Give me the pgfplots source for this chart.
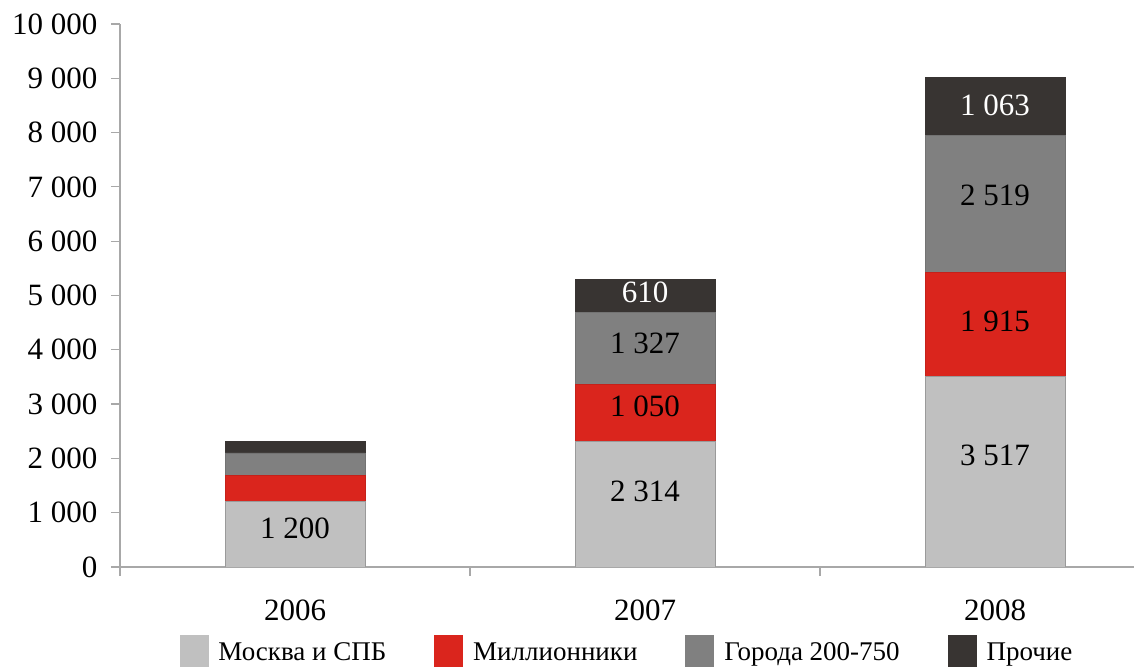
\documentclass[border=0pt]{standalone}
\usepackage{pgfplots}
\pgfplotsset{compat=1.18}
\usepackage{fontspec}
\setmainfont{Liberation Serif}
\definecolor{cLight}{HTML}{C0C0C0}
\definecolor{cRed}{HTML}{DA251D}
\definecolor{cMid}{HTML}{808080}
\definecolor{cDark}{HTML}{383432}
\definecolor{cAxis}{HTML}{A8A8A8}
\begin{document}
\begin{tikzpicture}
\path[use as bounding box] (-120pt,-101pt) rectangle (1014pt,567pt);
\begin{axis}[
  width=1014pt, height=543pt, scale only axis,
  ybar stacked, bar width=140pt,
  xmin=-0.5, xmax=2.397, ymin=0, ymax=10000,
  axis x line=bottom, axis y line=left,
  axis line style={draw=cAxis, line width=1.3pt, -},
  tick align=outside,
  tick style={draw=cAxis, line width=1.2pt},
  xtick={-0.5,0.5,1.5}, xticklabels={},
  extra x ticks={0,1,2}, extra x tick labels={2006,2007,2008},
  extra x tick style={major tick length=0pt},
  major tick length=9pt,
  scaled y ticks=false,
  xticklabel style={font=\fontsize{31}{33}\selectfont, yshift=-29pt},
  ytick={0,1000,...,10000},
  yticklabels={0,1 000,2 000,3 000,4 000,5 000,6 000,7 000,8 000,9 000,10 000},
  yticklabel style={font=\fontsize{31}{33}\selectfont, xshift=-10pt},
  legend columns=4,
  legend style={at={(0.5,-0.121)}, anchor=north, draw=none, fill=none,
    font=\fontsize{27}{29}\selectfont,
    /tikz/every odd column/.append style={column sep=8pt},
    /tikz/every even column/.append style={column sep=46pt}},
]
\addplot[fill=cLight, draw=cLight!80!black, line width=0.8pt,
  legend image code/.code={\fill[cLight] (0pt,-14pt) rectangle (28pt,17pt);}]
  coordinates {(0,1200) (1,2314) (2,3517)};
\addplot[fill=cRed, draw=cRed!90!black, line width=0.8pt,
  legend image code/.code={\fill[cRed] (0pt,-14pt) rectangle (28pt,17pt);}]
  coordinates {(0,480) (1,1050) (2,1915)};
\addplot[fill=cMid, draw=cMid!90!black, line width=0.8pt,
  legend image code/.code={\fill[cMid] (0pt,-14pt) rectangle (28pt,17pt);}]
  coordinates {(0,420) (1,1327) (2,2519)};
\addplot[fill=cDark, draw=cDark, line width=0.8pt,
  legend image code/.code={\fill[cDark] (0pt,-14pt) rectangle (28pt,17pt);}]
  coordinates {(0,210) (1,610) (2,1063)};
\legend{Москва и СПБ, Миллионники, Города 200-750, Прочие}
\end{axis}
\begin{axis}[
  width=1014pt, height=543pt, scale only axis,
  xmin=-0.5, xmax=2.397, ymin=0, ymax=10000,
  hide axis, clip=false,
]
\addplot[draw=none, mark=none, point meta=explicit symbolic,
  nodes near coords, nodes near coords align=center,
  every node near coord/.append style={anchor=center, text=black, font=\fontsize{31}{33}\selectfont}]
  table[meta=lab, col sep=comma] {
x,y,lab
0,720,1 200
1,1390,2 314
1,2960,1 050
1,4110,1 327
2,2055,3 517
2,4518,1 915
2,6850,2 519
};
\addplot[draw=none, mark=none, point meta=explicit symbolic,
  nodes near coords, nodes near coords align=center,
  every node near coord/.append style={anchor=center, text=white, font=\fontsize{31}{33}\selectfont}]
  table[meta=lab, col sep=comma] {
x,y,lab
1,5055,610
2,8500,1 063
};
\end{axis}
\end{tikzpicture}
\end{document}
